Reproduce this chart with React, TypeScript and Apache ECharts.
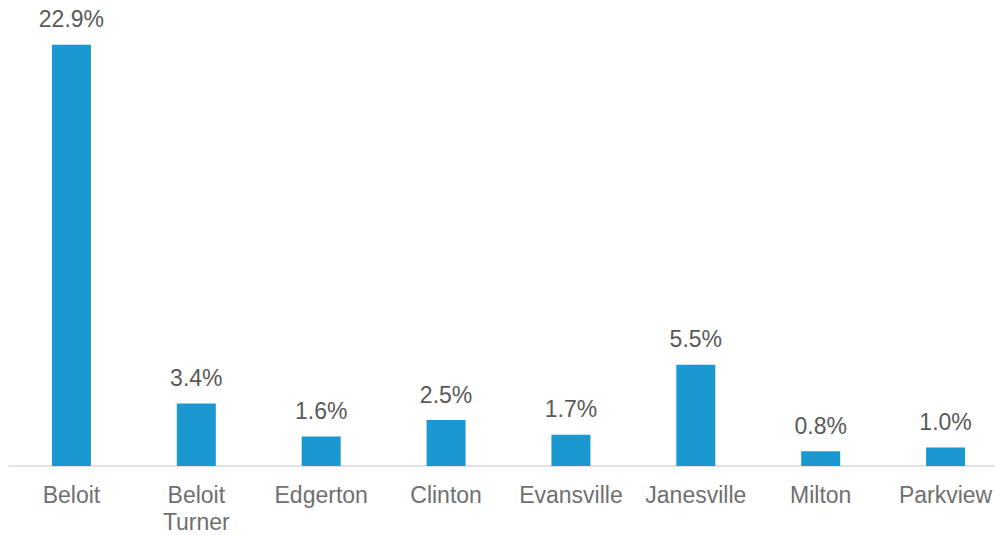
import React, { useEffect, useRef } from "react";
import * as echarts from "echarts";

const categories = ["Beloit", "Beloit\nTurner", "Edgerton", "Clinton", "Evansville", "Janesville", "Milton", "Parkview"];
const values = [22.9, 3.4, 1.6, 2.5, 1.7, 5.5, 0.8, 1.0];

export default function App() {
  const ref = useRef<HTMLDivElement>(null);
  useEffect(() => {
    const chart = echarts.init(ref.current!, null, { renderer: "svg" });
    chart.setOption({
      animation: false,
      grid: { left: 9, top: 6, width: 999, height: 460, containLabel: false, outerBoundsMode: "none" },
      xAxis: {
        type: "category",
        data: categories,
        axisLine: { lineStyle: { color: "#d9d9d9", width: 1.5 } },
        axisTick: { show: false },
        axisLabel: {
          interval: 0,
          color: "#6f6f6f",
          fontFamily: "Liberation Sans, Arial, sans-serif",
          fontSize: 23,
          lineHeight: 27,
          margin: 15,
        },
      },
      yAxis: {
        type: "value",
        min: 0,
        max: 25,
        show: false,
        splitLine: { show: false },
      },
      series: [
        {
          type: "bar",
          data: values,
          barWidth: 39,
          itemStyle: { color: "#1b98d0" },
          label: {
            show: true,
            position: "top",
            distance: 14,
            formatter: (p: any) => p.value.toFixed(1) + "%",
            color: "#595959",
            fontFamily: "Liberation Sans, Arial, sans-serif",
            fontSize: 23,
          },
        },
      ],
    });
    return () => chart.dispose();
  }, []);
  return (
    <div
      ref={ref}
      style={{ position: "fixed", left: 0, top: 0, width: 995, height: 535, background: "#fff" }}
    />
  );
}
